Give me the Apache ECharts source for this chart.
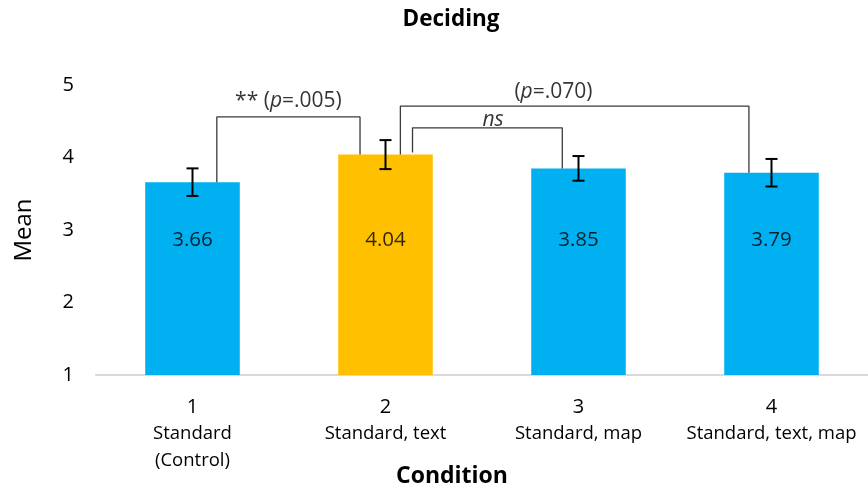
<!DOCTYPE html>
<html><head><meta charset="utf-8">
<script src="https://cdn.jsdelivr.net/npm/echarts@6/dist/echarts.min.js"></script>
<style>html,body{margin:0;padding:0;background:#fff}#c{width:868px;height:491px}</style>
</head><body><div id="c"></div>
<script>
const categoryNums = ['1', '2', '3', '4'];
const categoryNames = [['Standard', '(Control)'], ['Standard, text'], ['Standard, map'], ['Standard, text, map']];
const means = [3.66, 4.04, 3.85, 3.79];
const errors = [0.19, 0.20, 0.17, 0.19];
const barColors = ['#00B0F0', '#FFC000', '#00B0F0', '#00B0F0'];
const yTicks = [1, 2, 3, 4, 5];
// significance brackets: [x-left, x-right, top, left-bottom, right-bottom] in data units (x: 0..4 over categories)
const brackets = [
  [0.626, 1.368, 4.56, 3.66, 4.04],
  [1.577, 3.383, 4.71, 4.04, 3.79],
  [1.640, 2.416, 4.41, 4.07, 3.85]
];
const bracketLabels = [
  {x: 0.997, y: 4.78, pre: '** (', post: '=.005)'},
  {x: 2.37, y: 4.91, pre: '(', post: '=.070)'},
  {x: 2.057, y: 4.52, ns: true}
];
const LABEL_Y = 2.86;
const FONT = '"Open Sans", "Noto Sans", sans-serif';

const chart = echarts.init(document.getElementById('c'));
const bracketSeries = brackets.map(b => ({
  type: 'line', xAxisIndex: 1, yAxisIndex: 0, symbol: 'none', silent: true, z: 5,
  lineStyle: {color: '#3a3a3a', width: 1.3},
  data: [[b[0], b[3]], [b[0], b[2]], [b[1], b[2]], [b[1], b[4]]]
}));
chart.setOption({
  animation: false,
  textStyle: {fontFamily: FONT},
  title: [
    {text: 'Deciding', left: 446, top: 3, textAlign: 'center',
     textStyle: {fontFamily: FONT, fontSize: 22.5, fontWeight: 'bold', color: '#000'}},
    {text: 'Condition', left: 447, top: 460, textAlign: 'center',
     textStyle: {fontFamily: FONT, fontSize: 23, fontWeight: 'bold', color: '#000'}}
  ],
  grid: {left: 96, right: -6, top: 85, bottom: 116, containLabel: false},
  xAxis: [{
    type: 'category', data: categoryNums,
    axisLine: {lineStyle: {color: '#d9d9d9', width: 2}},
    axisTick: {show: false},
    axisLabel: {
      margin: 19, interval: 0, color: '#000',
      formatter: (v, i) => '{n|' + v + '}\n' + categoryNames[i].map(s => '{d|' + s + '}').join('\n'),
      rich: {
        n: {fontFamily: FONT, fontSize: 20, color: '#000', lineHeight: 26.5},
        d: {fontFamily: FONT, fontSize: 18.5, color: '#000', lineHeight: 26.5}
      }
    }
  }, {
    type: 'value', min: 0, max: 4, show: false
  }],
  yAxis: {
    type: 'value', min: 1, max: 5, interval: 1,
    name: 'Mean', nameLocation: 'middle', nameGap: 60, nameRotate: 90,
    nameTextStyle: {fontFamily: FONT, fontSize: 24, color: '#000'},
    axisLine: {show: false}, axisTick: {show: false}, splitLine: {show: false},
    axisLabel: {margin: 22, color: '#000', fontSize: 20, fontFamily: FONT,
      formatter: v => yTicks.includes(v) ? String(v) : ''}
  },
  series: [
    {
      type: 'bar', barWidth: '49%',
      data: means.map((v, i) => ({value: v, itemStyle: {color: barColors[i]}})),
      z: 2
    },
    {
      type: 'scatter', symbolSize: 0, silent: true, z: 6,
      data: means.map((v, i) => [i, LABEL_Y, v]),
      label: {show: true, position: 'inside', fontFamily: FONT, fontSize: 20.5, color: '#000',
        formatter: p => p.data[2].toFixed(2)}
    },
    {
      type: 'custom', z: 7, silent: true,
      data: means.map((v, i) => [i, v - errors[i], v + errors[i]]),
      renderItem: (params, api) => {
        const lo = api.coord([api.value(0), api.value(1)]);
        const hi = api.coord([api.value(0), api.value(2)]);
        const w = 6;
        const st = {stroke: '#000', lineWidth: 2};
        return {type: 'group', children: [
          {type: 'line', shape: {x1: lo[0], y1: lo[1], x2: hi[0], y2: hi[1]}, style: st},
          {type: 'line', shape: {x1: lo[0] - w, y1: lo[1], x2: lo[0] + w, y2: lo[1]}, style: st},
          {type: 'line', shape: {x1: hi[0] - w, y1: hi[1], x2: hi[0] + w, y2: hi[1]}, style: st}
        ]};
      }
    },
    ...bracketSeries,
    {
      type: 'scatter', xAxisIndex: 1, symbolSize: 0, silent: true, z: 8,
      data: bracketLabels.map(b => [b.x, b.y]),
      label: {
        show: true, position: 'inside',
        formatter: p => {
          const b = bracketLabels[p.dataIndex];
          return b.ns ? '{i|ns}' : '{t|' + b.pre + '}{i|p}{t|' + b.post + '}';
        },
        rich: {
          t: {fontFamily: FONT, fontSize: 21, color: '#000'},
          i: {fontFamily: FONT, fontSize: 21, color: '#000', fontStyle: 'italic'}
        }
      }
    }
  ]
});
</script></body></html>
